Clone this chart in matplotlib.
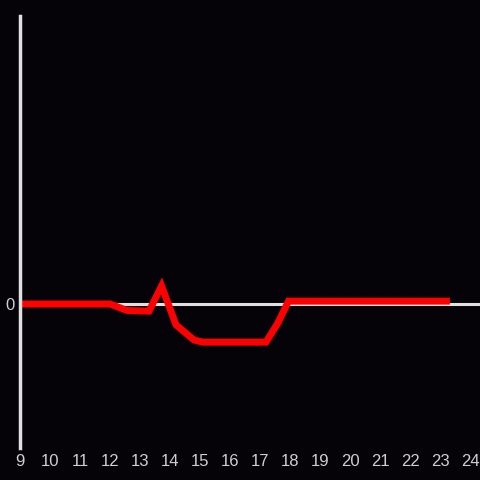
import matplotlib
matplotlib.use("Agg")
import matplotlib.pyplot as plt

plt.rcParams["font.family"] = ["Liberation Sans", "DejaVu Sans"]

hours = [9, 12, 12.57, 13.3, 13.72, 14.2, 14.8, 15.1, 17.2, 17.6, 17.95, 23.33]
values = [0.0, 0.0, -0.045, -0.05, 0.125, -0.145, -0.25, -0.265, -0.265, -0.13, 0.02, 0.02]
xticks = list(range(9, 25))

bg = "#050308"
axcol = "#e0e0e0"

fig = plt.figure(figsize=(4.8, 4.8), dpi=100, facecolor=bg)
ax = fig.add_axes([20/480, 32/480, 460/480, 432/480], facecolor=bg)

ax.axhline(0, color=axcol, lw=2.2, zorder=1)
ax.plot(hours, values, color="#ff0000", lw=5, solid_joinstyle="miter",
        solid_capstyle="butt", zorder=2)

ax.set_xlim(9, 24.333)
ax.set_ylim(-1, 2)
ax.set_xticks(xticks)
ax.set_xticklabels([str(t) for t in xticks])
ax.set_yticks([0])
ax.set_yticklabels(["0"])

for s in ["top", "right", "bottom"]:
    ax.spines[s].set_visible(False)
ax.spines["left"].set_color(axcol)
ax.spines["left"].set_linewidth(2.5)

ax.tick_params(axis="both", length=0, colors="#cfcfcf", labelsize=12)
ax.tick_params(axis="x", pad=4)
ax.tick_params(axis="y", pad=4)

fig.savefig("out.png", dpi=100, facecolor=bg)
